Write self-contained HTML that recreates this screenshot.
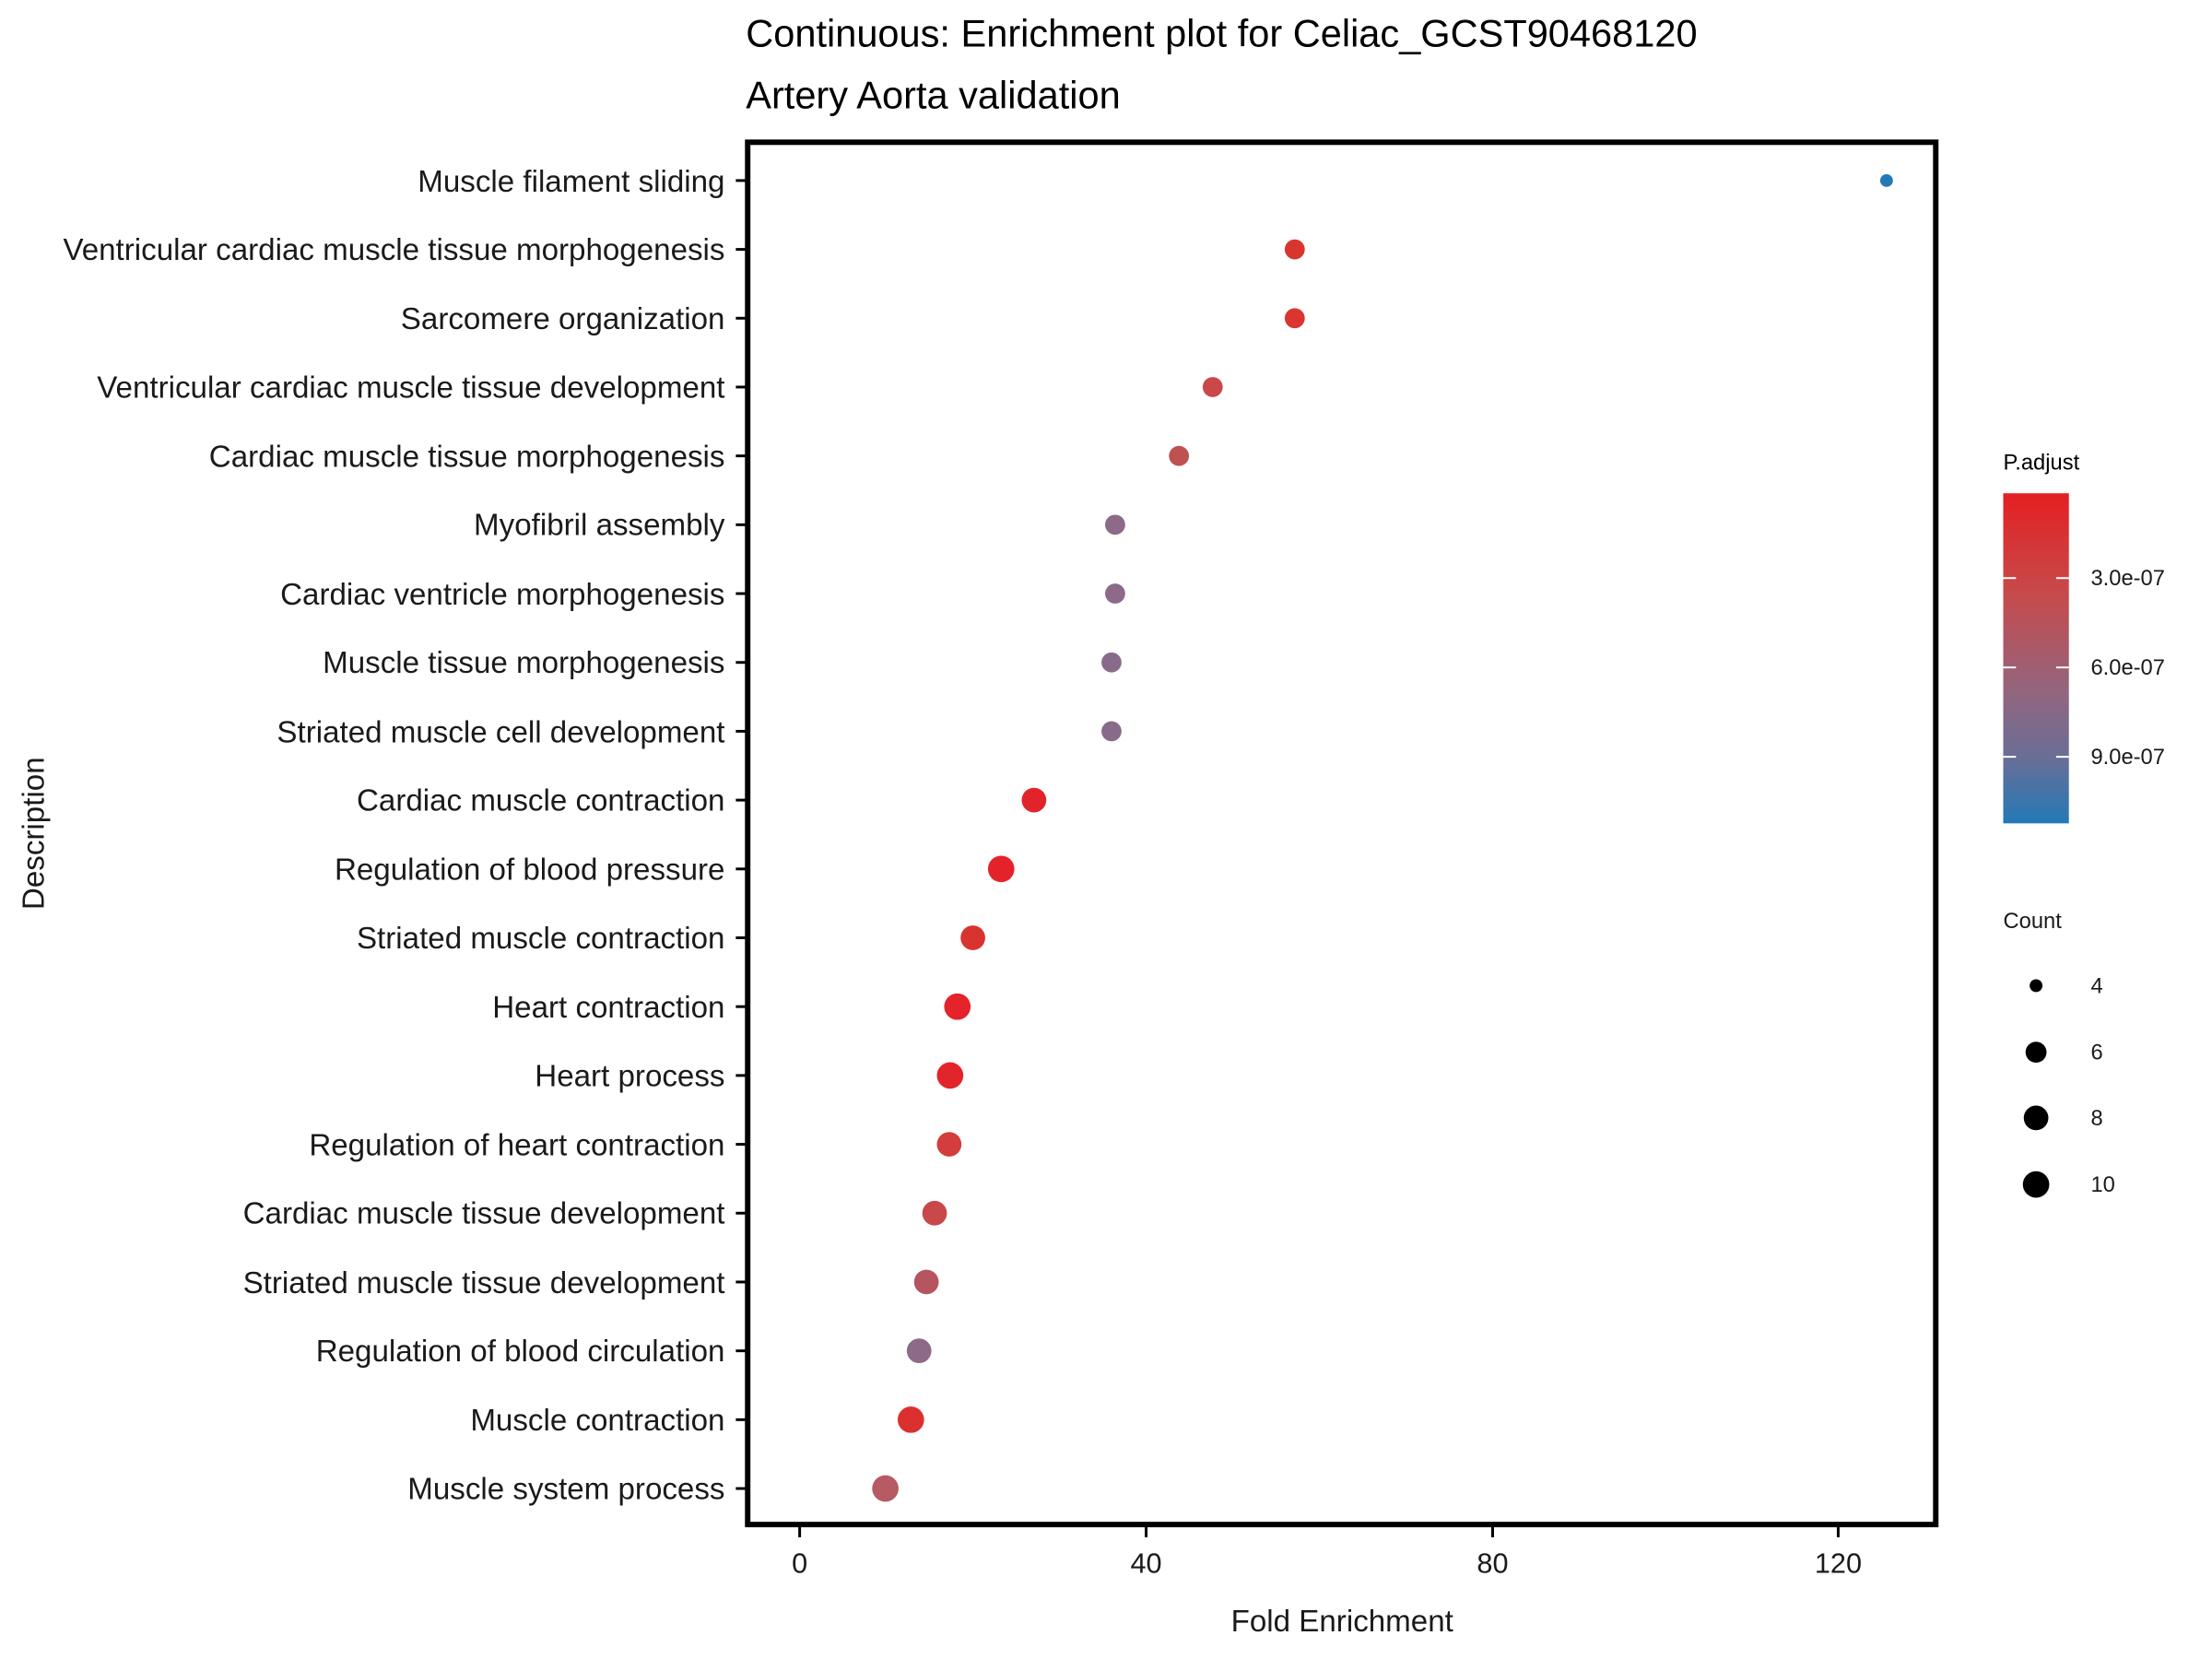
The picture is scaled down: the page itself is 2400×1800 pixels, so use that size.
<!DOCTYPE html>
<html><head><meta charset="utf-8"><style>html,body{margin:0;padding:0;background:#fff}svg{display:block}</style></head>
<body>
<svg width="2400" height="1800" viewBox="0 0 2400 1800" xmlns="http://www.w3.org/2000/svg" font-family="Liberation Sans, sans-serif">
<defs><linearGradient id="g" x1="0" y1="0" x2="0" y2="1">
<stop offset="0" stop-color="#e41f21"/><stop offset="0.3" stop-color="#c74a4b"/><stop offset="0.6" stop-color="#93657e"/><stop offset="0.8" stop-color="#6a6e96"/><stop offset="1" stop-color="#2379b6"/></linearGradient></defs>
<g transform="scale(0.9893)">
<text x="818" y="51" font-size="42">Continuous: Enrichment plot for Celiac_GCST90468120</text>
<text x="818" y="119" font-size="42">Artery Aorta validation</text>
<rect x="820" y="156" width="1303" height="1516" fill="none" stroke="#000" stroke-width="6"/>
<g font-size="33.5" text-anchor="end" fill="#1a1a1a">
<text x="795" y="210">Muscle filament sliding</text>
<text x="795" y="285">Ventricular cardiac muscle tissue morphogenesis</text>
<text x="795" y="361">Sarcomere organization</text>
<text x="795" y="436">Ventricular cardiac muscle tissue development</text>
<text x="795" y="512">Cardiac muscle tissue morphogenesis</text>
<text x="795" y="587">Myofibril assembly</text>
<text x="795" y="663">Cardiac ventricle morphogenesis</text>
<text x="795" y="738">Muscle tissue morphogenesis</text>
<text x="795" y="814">Striated muscle cell development</text>
<text x="795" y="889">Cardiac muscle contraction</text>
<text x="795" y="965">Regulation of blood pressure</text>
<text x="795" y="1040">Striated muscle contraction</text>
<text x="795" y="1116">Heart contraction</text>
<text x="795" y="1191">Heart process</text>
<text x="795" y="1267">Regulation of heart contraction</text>
<text x="795" y="1342">Cardiac muscle tissue development</text>
<text x="795" y="1418">Striated muscle tissue development</text>
<text x="795" y="1493">Regulation of blood circulation</text>
<text x="795" y="1569">Muscle contraction</text>
<text x="795" y="1644">Muscle system process</text>
</g>
<g stroke="#000" stroke-width="3">
<line x1="807" x2="820" y1="198" y2="198"/><line x1="807" x2="820" y1="273.5" y2="273.5"/><line x1="807" x2="820" y1="349" y2="349"/><line x1="807" x2="820" y1="424.5" y2="424.5"/><line x1="807" x2="820" y1="500" y2="500"/><line x1="807" x2="820" y1="575.5" y2="575.5"/><line x1="807" x2="820" y1="651" y2="651"/><line x1="807" x2="820" y1="726.5" y2="726.5"/><line x1="807" x2="820" y1="802" y2="802"/><line x1="807" x2="820" y1="877.5" y2="877.5"/><line x1="807" x2="820" y1="953" y2="953"/><line x1="807" x2="820" y1="1028.5" y2="1028.5"/><line x1="807" x2="820" y1="1104" y2="1104"/><line x1="807" x2="820" y1="1179.5" y2="1179.5"/><line x1="807" x2="820" y1="1255" y2="1255"/><line x1="807" x2="820" y1="1330.5" y2="1330.5"/><line x1="807" x2="820" y1="1406" y2="1406"/><line x1="807" x2="820" y1="1481.5" y2="1481.5"/><line x1="807" x2="820" y1="1557" y2="1557"/><line x1="807" x2="820" y1="1632.5" y2="1632.5"/>
<line x1="877" x2="877" y1="1672" y2="1686"/><line x1="1257" x2="1257" y1="1672" y2="1686"/><line x1="1637" x2="1637" y1="1672" y2="1686"/><line x1="2016" x2="2016" y1="1672" y2="1686"/>
</g>
<g font-size="31" text-anchor="middle" fill="#1a1a1a">
<text x="877" y="1725">0</text><text x="1257" y="1725">40</text><text x="1637" y="1725">80</text><text x="2016" y="1725">120</text>
</g>
<g font-size="33.5" text-anchor="middle" fill="#1a1a1a">
<text x="1472" y="1789">Fold Enrichment</text>
<text transform="translate(48,914) rotate(-90)">Description</text>
</g>
<g>
<circle cx="2069" cy="198" r="7" fill="#2379b6"/>
<circle cx="1420" cy="273.5" r="11" fill="#d9352f"/>
<circle cx="1420" cy="349" r="11" fill="#da3530"/>
<circle cx="1330" cy="424.5" r="11" fill="#c9484a"/>
<circle cx="1293" cy="500" r="11" fill="#c05152"/>
<circle cx="1223" cy="575.5" r="11" fill="#8c6a88"/>
<circle cx="1223" cy="651" r="11" fill="#8c6a88"/>
<circle cx="1219" cy="726.5" r="11" fill="#886b8b"/>
<circle cx="1219" cy="802" r="11" fill="#886b8b"/>
<circle cx="1134" cy="877.5" r="13.5" fill="#e2242a"/>
<circle cx="1098" cy="953" r="14.5" fill="#e4222a"/>
<circle cx="1067" cy="1028.5" r="13.5" fill="#d9332f"/>
<circle cx="1050" cy="1104" r="14.5" fill="#e4232a"/>
<circle cx="1042" cy="1179.5" r="14.5" fill="#e2252a"/>
<circle cx="1041" cy="1255" r="13.5" fill="#d33d3d"/>
<circle cx="1025" cy="1330.5" r="13.5" fill="#c9484a"/>
<circle cx="1016" cy="1406" r="13.5" fill="#b5555f"/>
<circle cx="1008" cy="1481.5" r="13.5" fill="#8c6a88"/>
<circle cx="999" cy="1557" r="14.5" fill="#dc3030"/>
<circle cx="971" cy="1632.5" r="14.5" fill="#b65a63"/>
</g>
<text x="2197" y="515" font-size="24">P.adjust</text>
<rect x="2197" y="541" width="72" height="362" fill="url(#g)"/>
<g stroke="#fff" stroke-width="2">
<line x1="2197" x2="2211" y1="634" y2="634"/><line x1="2255" x2="2269" y1="634" y2="634"/>
<line x1="2197" x2="2211" y1="732" y2="732"/><line x1="2255" x2="2269" y1="732" y2="732"/>
<line x1="2197" x2="2211" y1="830" y2="830"/><line x1="2255" x2="2269" y1="830" y2="830"/>
</g>
<g font-size="24" fill="#1a1a1a">
<text x="2293" y="642">3.0e-07</text><text x="2293" y="740">6.0e-07</text><text x="2293" y="838">9.0e-07</text>
<text x="2197" y="1018">Count</text>
<text x="2293" y="1089">4</text><text x="2293" y="1162">6</text><text x="2293" y="1234">8</text><text x="2293" y="1307">10</text>
</g>
<circle cx="2233" cy="1081" r="7" fill="#000"/>
<circle cx="2233" cy="1154" r="11.5" fill="#000"/>
<circle cx="2233" cy="1226" r="13.5" fill="#000"/>
<circle cx="2233" cy="1299" r="14.5" fill="#000"/>
</g>
</svg>
</body></html>
